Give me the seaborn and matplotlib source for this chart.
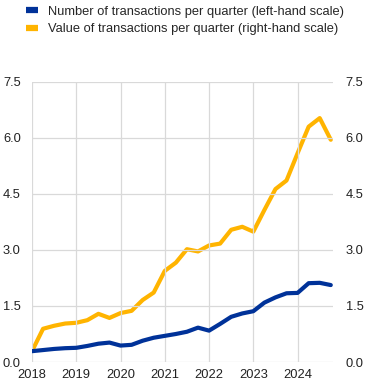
import numpy as np
import pandas as pd
import matplotlib
matplotlib.use("Agg")
import matplotlib.pyplot as plt
import seaborn as sns

# ====== DATA (quarterly, 2018Q1 - 2024Q4) ======
years = [2018, 2019, 2020, 2021, 2022, 2023, 2024]
quarters = ["Q1", "Q2", "Q3", "Q4"]

n_transactions = [0.29, 0.32, 0.35, 0.37,
                  0.38, 0.43, 0.49, 0.52,
                  0.44, 0.46, 0.57, 0.65,
                  0.70, 0.75, 0.81, 0.92,
                  0.84, 1.02, 1.21, 1.30,
                  1.36, 1.59, 1.73, 1.84,
                  1.85, 2.11, 2.12, 2.06]

v_transactions = [0.29, 0.89, 0.97, 1.03,
                  1.05, 1.12, 1.29, 1.18,
                  1.31, 1.37, 1.66, 1.86,
                  2.44, 2.66, 3.02, 2.96,
                  3.12, 3.17, 3.54, 3.62,
                  3.49, 4.07, 4.63, 4.86,
                  5.59, 6.30, 6.53, 5.95]

yticks = [0.0, 1.5, 3.0, 4.5, 6.0, 7.5]
label_n = "Number of transactions per quarter (left-hand scale)"
label_v = "Value of transactions per quarter (right-hand scale)"
# ===============================================

BLUE = "#003299"
YELLOW = "#FFB400"
GRID = "#d9d9d9"
FS = 9.3

t = [y + i / 4 for y in years for i in range(len(quarters))]
df = pd.DataFrame({"t": t, "number": n_transactions, "value": v_transactions})

sns.set_style("white")
plt.rcParams["font.family"] = ["Liberation Sans", "DejaVu Sans"]
plt.rcParams["font.size"] = FS

fig = plt.figure(figsize=(3.70, 3.88), dpi=100)
ax = fig.add_axes([0.0865, 0.067, 0.8135, 0.722])
ax2 = ax.twinx()

sns.lineplot(data=df, x="t", y="number", ax=ax, color=BLUE, lw=3, label=label_n, legend=False)
sns.lineplot(data=df, x="t", y="value", ax=ax2, color=YELLOW, lw=3, label=label_v, legend=False)

for a in (ax, ax2):
    a.set_ylim(0, 7.5)
    a.set_yticks(yticks)
    a.set_yticklabels([f"{v:.1f}" for v in yticks])
    a.set_xlim(2018, 2024.8)
    a.set_xlabel("")
    a.set_ylabel("")
    for s in a.spines.values():
        s.set_visible(False)
    a.tick_params(length=0, labelsize=FS, colors="#222222")

ax.set_xticks(years)
ax.set_xticklabels([str(y) for y in years])
ax.tick_params(axis="x", pad=5)
ax.tick_params(axis="y", pad=8)
ax2.tick_params(axis="y", pad=9)
ax.grid(True, color=GRID, lw=0.9)
ax.set_axisbelow(True)
ax.set_zorder(ax2.get_zorder() + 1)
ax.patch.set_visible(False)

h1, l1 = ax.get_legend_handles_labels()
h2, l2 = ax2.get_legend_handles_labels()
leg = fig.legend(h1 + h2, l1 + l2, loc="upper left", bbox_to_anchor=(0.04, 1.015),
                 frameon=False, handlelength=0.9, handletextpad=0.8, labelspacing=0.4,
                 fontsize=FS)
for line in leg.get_lines():
    line.set_linewidth(4.5)
    line.set_solid_capstyle("butt")

fig.savefig("out.png", dpi=100)
